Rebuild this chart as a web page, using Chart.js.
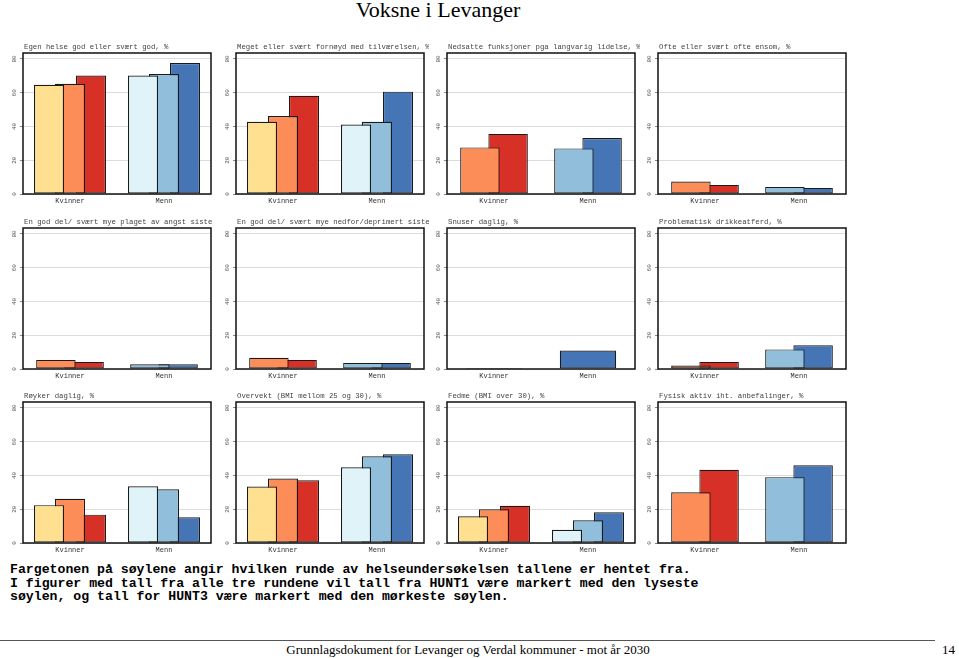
<!DOCTYPE html>
<html>
<head>
<meta charset="utf-8">
<title>Voksne i Levanger</title>
<script src="https://cdn.jsdelivr.net/npm/chart.js@4/dist/chart.umd.min.js"></script>
<style>
  body { margin: 0; background: #fff; width: 959px; height: 658px; position: relative; overflow: hidden; }
  .maintitle { position: absolute; left: 338px; width: 200px; top: -2px; text-align: center;
    font-family: "Liberation Serif", serif; font-size: 22px; line-height: 24px; color: #000; }
  .panel { position: absolute; }
  .note { position: absolute; left: 10px; top: 563px; font-family: "Liberation Mono", monospace;
    font-weight: bold; font-size: 13.2px; line-height: 13.5px; color: #000; white-space: pre; }
  .rule { position: absolute; left: 0; top: 640px; width: 935px; border-top: 1px solid #555; }
  .footer { position: absolute; left: 0; width: 936px; top: 642px; text-align: center;
    font-family: "Liberation Serif", serif; font-size: 13px; color: #000; }
  .pagenr { position: absolute; left: 942px; top: 642px; font-family: "Liberation Serif", serif; font-size: 13px; }
</style>
</head>
<body>
<div class="maintitle">Voksne i Levanger</div>
<div id="panels"></div>
<div class="note">Fargetonen på søylene angir hvilken runde av helseundersøkelsen tallene er hentet fra.
I figurer med tall fra alle tre rundene vil tall fra HUNT1 være markert med den lyseste
søylen, og tall for HUNT3 være markert med den mørkeste søylen.</div>
<div class="rule"></div>
<div class="footer">Grunnlagsdokument for Levanger og Verdal kommuner - mot år 2030</div>
<div class="pagenr">14</div>

<script>
"use strict";

// data
var categories = ['Kvinner', 'Menn'];
var rounds = ['HUNT1', 'HUNT2', 'HUNT3'];
var yTicks = [0, 20, 40, 60, 80];

var titles = [
  'Egen helse god eller svært god, %',
  'Meget eller svært fornøyd med tilværelsen, %',
  'Nedsatte funksjoner pga langvarig lidelse, %',
  'Ofte eller svært ofte ensom, %',
  'En god del/ svært mye plaget av angst siste 14 dager, %',
  'En god del/ svært mye nedfor/deprimert siste 14 dager, %',
  'Snuser daglig, %',
  'Problematisk drikkeatferd, %',
  'Røyker daglig, %',
  'Overvekt (BMI mellom 25 og 30), %',
  'Fedme (BMI over 30), %',
  'Fysisk aktiv iht. anbefalinger, %'
];

var hunt1Kvinner = [64.7, 42.8, null, null, null, null, null, null, 22.4, 33.4, 15.8, null];
var hunt1Menn    = [70.2, 41.2, null, null, null, null, null, null, 33.6, 44.8,  7.8, null];
var hunt2Kvinner = [65.3, 46.2, 27.6, 7.4, 5.4, 6.6, null,  2.0, 26.2, 38.2, 20.0, 30.0];
var hunt2Menn    = [71.0, 42.8, 27.0, 4.2, 2.8, 3.6, null, 11.6, 31.8, 51.4, 13.4, 39.0];
var hunt3Kvinner = [70.2, 58.2, 35.6, 5.4, 4.2, 5.4,  0.6,  4.2, 16.8, 37.2, 22.0, 43.4];
var hunt3Menn    = [77.6, 60.6, 33.2, 3.6, 2.8, 3.6, 11.0, 14.0, 15.2, 52.6, 18.2, 46.0];

var kvinnerColors = ['#fee090', '#fc8d59', '#d73027'];
var mennColors    = ['#e0f3f8', '#91bfdb', '#4575b4'];

// layout of the 4x3 grid
var plotLefts = [23, 236, 447, 658];
var plotTops = [53, 227.5, 401.5];
var plotW = 188, plotH = 141;
var padL = 22, padT = 12, padR = 5, padB = 13;

var mono = '"Liberation Mono", "DejaVu Sans Mono", monospace';

function makePanel(i) {
  var col = i % 4, row = Math.floor(i / 4);
  var canvas = document.createElement('canvas');
  canvas.className = 'panel';
  canvas.width = padL + plotW + padR;
  canvas.height = padT + plotH + padB;
  canvas.style.left = (plotLefts[col] - padL) + 'px';
  canvas.style.top = (plotTops[row] - padT) + 'px';
  document.getElementById('panels').appendChild(canvas);

  var values = [
    [hunt1Kvinner[i], hunt1Menn[i]],
    [hunt2Kvinner[i], hunt2Menn[i]],
    [hunt3Kvinner[i], hunt3Menn[i]]
  ];
  var n = values.filter(function (v) { return v[0] !== null; }).length;
  var catPct = n === 3 ? 0.67 : 0.6;
  var barPct = n === 3 ? 1.43 : (n === 2 ? 1.4 : 1.0);

  var datasets = values.map(function (v, k) {
    return {
      label: rounds[k],
      data: v,
      backgroundColor: [kvinnerColors[k], mennColors[k]],
      borderColor: '#1a1a1a',
      borderWidth: 1.2,
      borderSkipped: false,
      skipNull: true,
      categoryPercentage: catPct,
      barPercentage: barPct
    };
  });

  // title and box round the plot area
  var framePlugin = {
    id: 'frame' + i,
    afterDraw: function (chart) {
      var a = chart.chartArea, ctx = chart.ctx;
      ctx.save();
      ctx.strokeStyle = '#111';
      ctx.lineWidth = 1.5;
      ctx.strokeRect(a.left, a.top, a.right - a.left, a.bottom - a.top);
      ctx.fillStyle = '#444';
      ctx.font = '7.3px ' + mono;
      ctx.textBaseline = 'bottom';
      ctx.fillText(titles[i], a.left + 1, a.top - 2);
      ctx.restore();
    }
  };

  new Chart(canvas, {
    type: 'bar',
    data: { labels: categories, datasets: datasets },
    options: {
      responsive: false,
      animation: false,
      layout: { padding: { top: padT, right: padR, left: 0, bottom: 0 } },
      plugins: { legend: { display: false }, tooltip: { enabled: false } },
      scales: {
        x: {
          grid: { display: false, drawTicks: false },
          border: { display: false },
          ticks: { font: { family: mono, size: 7 }, color: '#333', padding: 3,
                   minRotation: 0, maxRotation: 0, autoSkip: false },
          afterFit: function (s) { s.height = padB; }
        },
        y: {
          min: 0,
          max: 83.5,
          afterBuildTicks: function (s) { s.ticks = yTicks.map(function (v) { return { value: v }; }); },
          grid: { color: '#dcdcdc', lineWidth: 1, tickLength: 3, tickColor: '#888' },
          border: { display: false },
          ticks: { font: { family: mono, size: 6 }, color: '#555', minRotation: 90, maxRotation: 90,
                   crossAlign: 'center', padding: 2 },
          afterFit: function (s) { s.width = padL; }
        }
      }
    },
    plugins: [framePlugin]
  });
}

for (var i = 0; i < titles.length; i++) {
  makePanel(i);
}
</script>
</body>
</html>
